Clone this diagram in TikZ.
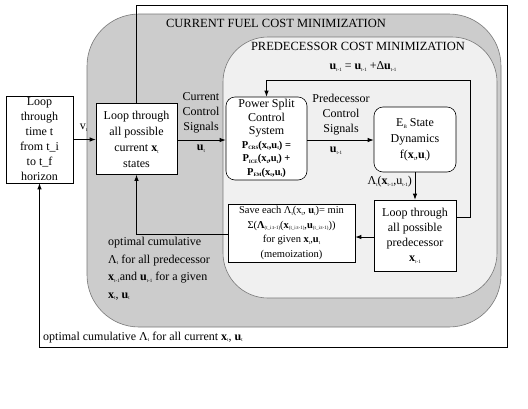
\documentclass[tikz,border=0pt]{standalone}
\usepackage{fontspec}
\setmainfont{Liberation Serif}
\usetikzlibrary{arrows.meta}
\newcommand{\mysub}[1]{\raisebox{-0.35ex}{\fontsize{5}{5}\selectfont #1}}
\newcommand{\bx}{\textbf{x}}
\newcommand{\bu}{\textbf{u}}
\definecolor{outergray}{RGB}{204,204,204}
\definecolor{innergray}{RGB}{240,240,240}
\definecolor{edgegray}{RGB}{120,120,120}
\begin{document}
\begin{tikzpicture}[x=1pt,y=-1pt,
  txt/.style={font=\fontsize{12}{15}\selectfont},
  box/.style={draw, fill=white, line width=0.6pt, inner sep=1pt, align=center, txt},
  rbox/.style={box, rounded corners=9pt},
  arr/.style={line width=0.9pt, -{Latex[length=6pt,width=4.5pt]}},
  lbl/.style={inner sep=0pt, align=center, txt},
  region/.style={draw=edgegray, line width=0.6pt}]
\useasboundingbox (0,0) rectangle (528,408);
% regions
\path[region, fill=outergray, rounded corners=52pt] (87,14) rectangle (501,327);
\path[region, fill=innergray, rounded corners=45pt] (223,37) rectangle (497,298);
\node[lbl, font=\fontsize{12.5}{14}\selectfont] (t1) at (276,23.5) {CURRENT FUEL COST MINIMIZATION};
\node[lbl, font=\fontsize{12.5}{14}\selectfont] (t2) at (358,46.5) {PREDECESSOR COST MINIMIZATION};
% boxes
\node[box, minimum width=67pt, minimum height=87pt] (time) at (39.5,139.5)
  {Loop\\through\\time t\\from t\_i\\to t\_f\\horizon};
\node[box, minimum width=81pt, minimum height=71pt, font=\fontsize{12}{16}\selectfont] (cur) at (136.5,139)
  {Loop through\\all possible\\current \bx\mysub{t}\\states};
\node[rbox, minimum width=81pt, minimum height=83pt, font=\fontsize{12}{13.5}\selectfont] (ps) at (266.5,138.5)
  {Power Split\\Control\\System\\
   {\fontsize{10.5}{13}\selectfont\bfseries P\mysub{CRS}(x\mysub{t},u\mysub{t}) =}\\
   {\fontsize{10.5}{13}\selectfont\bfseries P\mysub{ICE}(x\mysub{t},u\mysub{t}) +}\\
   {\fontsize{10.5}{13}\selectfont\bfseries P\mysub{EM}(x\mysub{t},u\mysub{t})}};
\node[rbox, minimum width=82pt, minimum height=65pt, font=\fontsize{12}{16}\selectfont] (eb) at (415,139.5)
  {E\mysub{B} State\\Dynamics\\f(\bx\mysub{t},\bu\mysub{t})};
\node[box, minimum width=82pt, minimum height=71pt] (pred) at (415,235.5)
  {Loop through\\all possible\\predecessor\\\bx\mysub{t-1}};
\node[box, minimum width=127pt, minimum height=58pt, font=\fontsize{10.5}{14.5}\selectfont] (save) at (291.5,233)
  {Save each Λ\mysub{t}(x\mysub{t}, \bu\mysub{t})= min\\
   Σ(\textbf{Λ}\mysub{(t\_i:t-1)}(\bx\mysub{(t\_i:t-1)},\bu\mysub{(t\_i:t-1)}))\\
   for given \bx\mysub{t},\bu\mysub{t}\\(memoization)};
% labels
\node[lbl] (lv) at (83.5,128) {v\mysub{t}};
\node[lbl] (lcur) at (201,113) {Current\\Control\\Signals};
\node[lbl] (lut) at (201,149) {\bu\mysub{t}};
\node[lbl] (lpre) at (341,115) {Predecessor\\Control\\Signals};
\node[lbl] (lut1) at (336,151) {\bu\mysub{t-1}};
\node[lbl] (lfb) at (363,67) {\bu\mysub{t-1} = \bu\mysub{t-1} +Δ\bu\mysub{t-1}};
\node[lbl, anchor=east] (llam) at (412,182) {Λ\mysub{t}(\bx\mysub{t-1},u\mysub{t-1})};
\node[lbl, anchor=north west, align=left, font=\fontsize{12}{17.5}\selectfont] (lopt) at (108,237)
  {optimal cumulative\\Λ\mysub{t} for all predecessor\\\bx\mysub{t-1}and \bu\mysub{t-1} for a given\\\bx\mysub{t}, \bu\mysub{t}};
\node[lbl, anchor=base west] (lbot) at (43,340)
  {optimal cumulative Λ\mysub{t} for all current \bx\mysub{t}, \bu\mysub{t}};
% coordinates
\coordinate (fbA) at (470,217);
\coordinate (fbB) at (470,80);
\coordinate (svL) at (228,234);
\coordinate (otr) at (507,5);
\coordinate (obr) at (507,347);
% connectors
\draw[arr] (time.east) -- (time.east -| cur.west);
\draw[arr] (cur.east |- 0,140) -- (ps.west |- 0,140);
\draw[arr] (ps.east |- 0,140) -- (eb.west |- 0,140);
\draw[arr] (eb.south) -- (pred.north);
\draw[arr] (pred.west |- 0,237) -- (save.east |- 0,237);
\draw[arr] (fbA -| pred.east) -- (fbA) -- (fbB) -- (fbB -| ps.north) -- (ps.north);
\draw[arr] (svL -| save.west) -- (svL -| cur.south) -- (cur.south);
\draw[arr] (cur.north) -- (cur.north |- otr) -- (otr) -- (obr) -- (obr -| time.south) -- (time.south);
\end{tikzpicture}
\end{document}
